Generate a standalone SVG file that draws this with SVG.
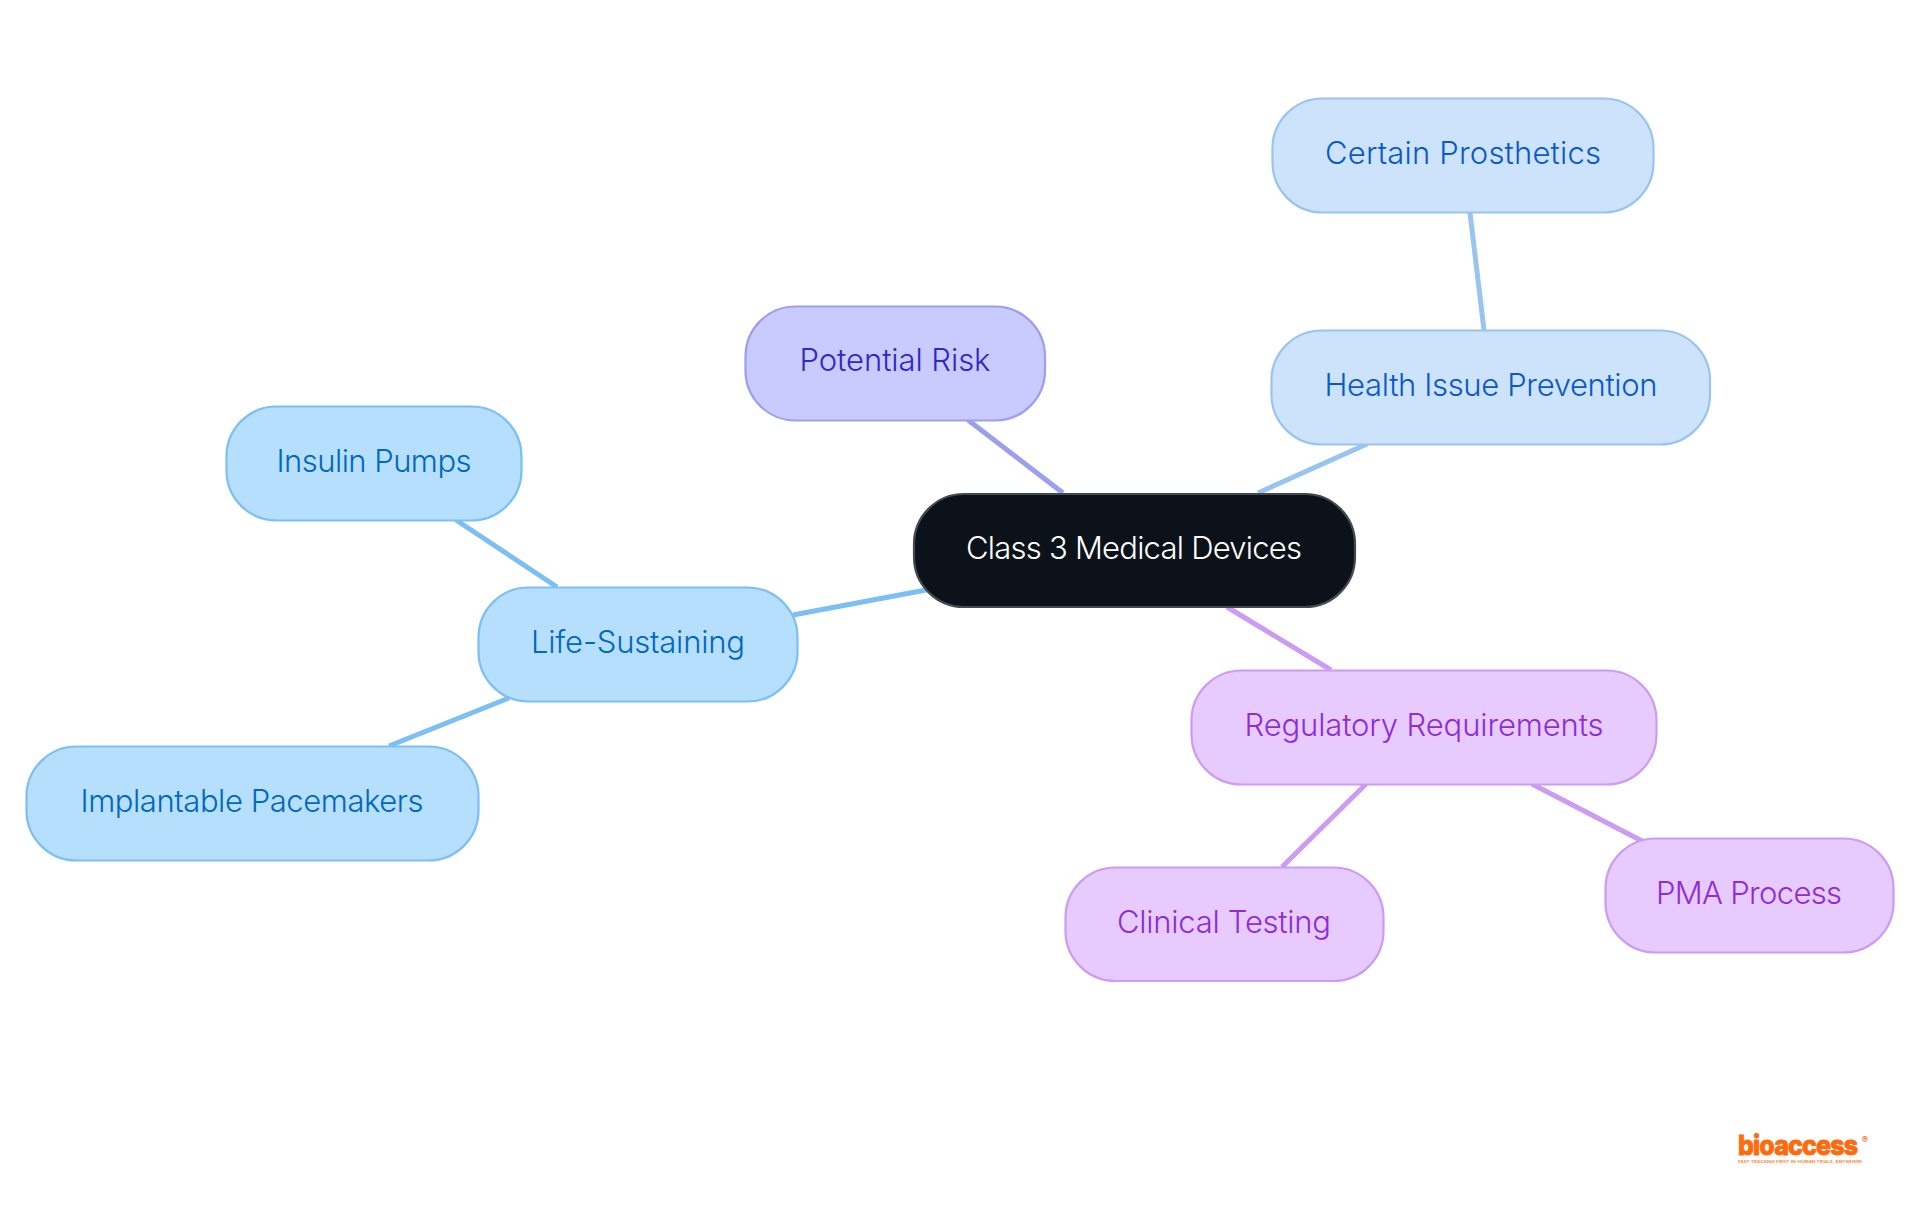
<svg xmlns="http://www.w3.org/2000/svg" width="1920" height="1215" viewBox="0 0 1920 1215">
<style>
.n{stroke-width:2.2}
.t{font-family:Inter,"Noto Sans",sans-serif;font-size:31px;font-weight:300;text-anchor:middle;dominant-baseline:central}
.c{fill:none;stroke-width:5}
.sky rect{fill:#b6dffe;stroke:#7cbff2}.sky text{fill:#0068bd}
.blue rect{fill:#cde3fc;stroke:#99c4f0}.blue text{fill:#0a58cc}
.ind rect{fill:#c9cbff;stroke:#9c9ef0}.ind text{fill:#3226cc}
.pur rect{fill:#e7cbff;stroke:#cb9cf2}.pur text{fill:#8f2bdb}
</style>
<rect width="1920" height="1215" fill="#fff"/>
<g id="connectors">
<path class="c" stroke="#9c9ef0" d="M968 420L1063 493"/>
<path class="c" stroke="#99c4f0" d="M1367 444L1258 493"/>
<path class="c" stroke="#99c4f0" d="M1470 213L1484 330"/>
<path class="c" stroke="#7cbff2" d="M926 590L793 615"/>
<path class="c" stroke="#7cbff2" d="M456 520L557 587"/>
<path class="c" stroke="#7cbff2" d="M509 698L389 746"/>
<path class="c" stroke="#cb9cf2" d="M1227 607L1331 670"/>
<path class="c" stroke="#cb9cf2" d="M1366 784L1282 867"/>
<path class="c" stroke="#cb9cf2" d="M1532 784L1644 842"/>
</g>
<g id="root"><rect class="n" x="914" y="494" width="441" height="113" rx="50" fill="#0b121a" stroke="#454a50"/><text class="t" x="1134" y="547" fill="#fff" textLength="336" lengthAdjust="spacing">Class 3 Medical Devices</text></g>
<g id="risk" class="ind"><rect class="n" x="745.5" y="306.5" width="299.5" height="114" rx="50"/><text class="t" x="895" y="359" textLength="191" lengthAdjust="spacing">Potential Risk</text></g>
<g id="health" class="blue"><rect class="n" x="1271.5" y="330.5" width="438.5" height="114" rx="50"/><text class="t" x="1491" y="384" textLength="333" lengthAdjust="spacing">Health Issue Prevention</text></g>
<g id="prosthetics" class="blue"><rect class="n" x="1272.5" y="98.5" width="381" height="114" rx="50"/><text class="t" x="1463" y="152" textLength="276" lengthAdjust="spacing">Certain Prosthetics</text></g>
<g id="life" class="sky"><rect class="n" x="478.5" y="587.5" width="319" height="114" rx="50"/><text class="t" x="638" y="641" textLength="214" lengthAdjust="spacing">Life-Sustaining</text></g>
<g id="insulin" class="sky"><rect class="n" x="226.5" y="406.5" width="295" height="114" rx="50"/><text class="t" x="374" y="460" textLength="195" lengthAdjust="spacing">Insulin Pumps</text></g>
<g id="pacemakers" class="sky"><rect class="n" x="26.5" y="746.5" width="452" height="114" rx="50"/><text class="t" x="252" y="800" textLength="343" lengthAdjust="spacing">Implantable Pacemakers</text></g>
<g id="regulatory" class="pur"><rect class="n" x="1191.5" y="670.5" width="465" height="114" rx="50"/><text class="t" x="1424" y="724" textLength="359" lengthAdjust="spacing">Regulatory Requirements</text></g>
<g id="clinical" class="pur"><rect class="n" x="1065.5" y="867.5" width="318" height="113.5" rx="50"/><text class="t" x="1224" y="921" textLength="214" lengthAdjust="spacing">Clinical Testing</text></g>
<g id="pma" class="pur"><rect class="n" x="1605.5" y="838.5" width="288" height="114" rx="50"/><text class="t" x="1749" y="892" textLength="186" lengthAdjust="spacing">PMA Process</text></g>
<g id="logo" fill="#ff6a0d" font-family="Inter,'Noto Sans',sans-serif">
<text transform="translate(1738 1155) scale(1 1.1)" font-size="25" font-weight="800" stroke="#ff6a0d" stroke-width="0.8" textLength="120" lengthAdjust="spacing">bioaccess</text>
<text x="1862" y="1143" font-size="9" font-weight="700">®</text>
<text x="1738" y="1163" font-size="3.6" font-weight="700" textLength="124" lengthAdjust="spacingAndGlyphs" fill="#ff8a40">FAST-TRACKING FIRST-IN-HUMAN TRIALS, ANYWHERE</text>
</g>
</svg>
